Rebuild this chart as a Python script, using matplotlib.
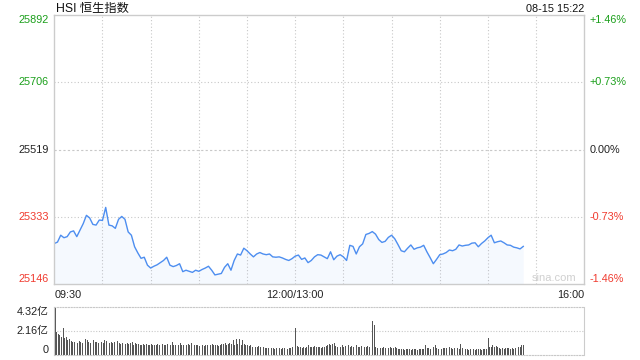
import numpy as np
import matplotlib
matplotlib.use("Agg")
import matplotlib.pyplot as plt

plt.rcParams['font.family'] = ['Liberation Sans', 'Noto Sans CJK SC', 'DejaVu Sans']

# HSI intraday, sampled every 2 minutes from 09:30 (minute 150 = 12:00/13:00)
prev_close = 25519
price = [
    25259, 25263, 25282, 25275, 25278, 25291, 25294, 25278, 25296, 25314,
    25337, 25330, 25312, 25310, 25324, 25323, 25359, 25310, 25308, 25301,
    25326, 25334, 25326, 25291, 25282, 25250, 25233, 25218, 25221, 25199,
    25191, 25196, 25200, 25206, 25212, 25221, 25199, 25195, 25198, 25203,
    25181, 25185, 25182, 25179, 25185, 25182, 25187, 25191, 25196, 25185,
    25172, 25174, 25176, 25193, 25203, 25185, 25212, 25230, 25227, 25246,
    25239, 25230, 25222, 25230, 25234, 25230, 25228, 25230, 25222, 25221,
    25222, 25219, 25215, 25212, 25217, 25224, 25227, 25215, 25219, 25206,
    25212, 25222, 25228, 25227, 25222, 25217, 25236, 25214, 25224, 25228,
    25222, 25212, 25254, 25251, 25230, 25250, 25258, 25284, 25287, 25292,
    25285, 25270, 25262, 25265, 25276, 25282, 25272, 25256, 25239, 25236,
    25246, 25255, 25243, 25247, 25249, 25254, 25236, 25220, 25203, 25215,
    25228, 25230, 25234, 25241, 25239, 25243, 25255, 25252, 25254, 25255,
    25260, 25261, 25250, 25259, 25266, 25275, 25282, 25261, 25264, 25266,
    25261, 25255, 25254, 25249, 25247, 25244, 25251,
]

# volume per minute, in 亿
volume = [
    4.32, 2.1, 1.85, 1.8, 1.6, 2.4, 1.5, 1.6, 1.3, 1.4,
    1.25, 1.2, 1.15, 1.2, 1.1, 1.25, 1.2, 1.1, 1.15, 1.4,
    1.3, 1.2, 1.1, 1.25, 1.3, 1.15, 1.2, 1.05, 1.55, 1.2,
    1.1, 1.3, 1.25, 1.0, 1.05, 1.2, 1.1, 1.15, 1.0, 1.25,
    1.1, 1.0, 1.1, 2.0, 1.0, 1.1, 0.95, 1.05, 1.2, 0.9,
    1.1, 1.0, 0.95, 0.9, 0.85, 1.0, 0.9, 0.95, 0.85, 0.9,
    0.95, 0.9, 0.85, 0.9, 0.95, 0.9, 0.9, 1.0, 0.85, 0.9,
    0.95, 0.9, 0.85, 1.2, 0.9, 0.85, 0.95, 0.9, 1.05, 0.85,
    0.9, 1.0, 0.9, 0.95, 0.85, 1.1, 0.8, 0.85, 0.9, 0.9,
    0.8, 0.85, 0.9, 0.8, 0.85, 0.9, 0.8, 0.85, 0.95, 0.9,
    0.85, 0.9, 0.8, 0.9, 1.0, 0.95, 1.1, 0.9, 1.0, 1.1,
    1.0, 1.3, 0.9, 1.4, 1.0, 1.45, 0.9, 1.3, 0.95, 0.85,
    0.9, 0.8, 0.85, 0.75, 0.8, 0.7, 0.75, 0.8, 0.7, 0.75,
    0.7, 0.65, 0.65, 0.6, 0.55, 0.6, 0.65, 0.55, 0.6, 0.7,
    0.6, 0.55, 0.6, 0.65, 0.6, 0.55, 0.6, 0.65, 0.7, 0.75,
    2.45, 0.8, 0.75, 0.7, 0.65, 0.7, 0.65, 0.7, 0.85, 0.7,
    0.75, 0.7, 0.8, 0.7, 0.75, 0.7, 0.65, 0.7, 0.75, 0.8,
    0.9, 0.95, 0.85, 1.0, 1.05, 0.8, 0.75, 0.8, 0.75, 0.85,
    0.75, 0.8, 0.7, 0.85, 0.75, 0.8, 0.7, 0.75, 0.85, 0.7,
    0.75, 0.8, 0.7, 0.75, 0.7, 0.8, 0.75, 0.7, 3.0, 2.65,
    0.7, 0.65, 0.7, 0.6, 0.65, 0.7, 0.6, 0.75, 0.65, 0.7,
    0.65, 0.6, 0.7, 0.65, 0.55, 0.5, 0.55, 0.5, 0.45, 0.5,
    0.55, 0.5, 0.45, 0.5, 0.55, 0.5, 0.45, 0.55, 0.5, 0.5,
    0.55, 0.85, 0.6, 0.65, 0.55, 0.6, 0.7, 0.85, 0.6, 0.55,
    0.6, 0.55, 0.6, 0.65, 0.6, 0.55, 0.7, 0.6, 0.55, 0.6,
    0.65, 0.6, 0.55, 0.95, 0.6, 0.5, 0.55, 0.5, 0.45, 0.5,
    0.55, 0.5, 0.45, 0.5, 0.55, 0.5, 0.45, 0.55, 0.5, 0.5,
    1.55, 0.7, 0.75, 0.85, 0.7, 0.8, 0.75, 0.6, 0.55, 0.6,
    0.55, 0.6, 0.65, 0.6, 0.55, 0.6, 0.55, 0.65, 0.6, 0.7,
    0.75, 0.85, 0.9,
]

price_levels = [25146, 25333, 25519, 25706, 25892]
pct_labels = ['-1.46%', '-0.73%', '0.00%', '+0.73%', '+1.46%']
vol_levels = [0, 2.16, 4.32]
vol_labels = ['0', '2.16亿', '4.32亿']
x_labels = ['09:30', '12:00/13:00', '16:00']

GREEN = '#1a9f1a'
RED = '#f03a2e'
BORDER = '#cccccc'
GRID = '#c8c8c8'
LINE = '#4d8ef0'
FS = 7.8


def level_color(v):
    if v > prev_close:
        return GREEN
    if v < prev_close:
        return RED
    return '#222222'


fig = plt.figure(figsize=(6.4, 3.6), dpi=100)
W, H = 640.0, 360.0
x0, x1 = 54.3, 584.3
ax = fig.add_axes([x0 / W, 1 - 284.3 / H, (x1 - x0) / W, (284.3 - 15) / H])
axv = fig.add_axes([x0 / W, 1 - 355 / H, (x1 - x0) / W, (355 - 306.7) / H])

total = 330
xp = np.arange(0, 2 * len(price), 2)
xv = np.arange(len(volume))

# main price panel
ax.set_xlim(0, total)
ax.set_ylim(price_levels[0], price_levels[-1])
ax.fill_between(xp, price, price_levels[0], color=LINE, alpha=0.05, lw=0)
ax.plot(xp, price, color=LINE, lw=1.0)
for v in price_levels[1:-1]:
    ls = (0, (2, 2)) if v == prev_close else (0, (1, 2))
    ax.axhline(v, color=GRID, lw=0.8, ls=ls, zorder=0)
for t in range(30, total, 30):
    ax.axvline(t, color=GRID, lw=0.8, ls=(0, (1, 2)), zorder=0)
for s in ax.spines.values():
    s.set_color(BORDER)
    s.set_linewidth(1)
ax.set_xticks([])
ax.set_yticks([])

for i, (v, p) in enumerate(zip(price_levels, pct_labels)):
    va = 'bottom' if i == 0 else ('top' if i == len(price_levels) - 1 else 'center')
    c = level_color(v)
    ax.annotate(str(v), (0, v), xycoords=('axes fraction', 'data'), xytext=(-4, 0),
                textcoords='offset points', ha='right', va=va, fontsize=FS, color=c)
    ax.annotate(p, (1, v), xycoords=('axes fraction', 'data'), xytext=(4, 0),
                textcoords='offset points', ha='left', va=va, fontsize=FS, color=c)

ax.text(0, -0.02, x_labels[0], transform=ax.transAxes, ha='left', va='top', fontsize=FS, color='#222222')
ax.text(150 / total, -0.02, x_labels[1], transform=ax.transAxes, ha='center', va='top', fontsize=FS, color='#222222')
ax.text(1, -0.02, x_labels[2], transform=ax.transAxes, ha='right', va='top', fontsize=FS, color='#222222')
ax.text(0.985, 0.005, 'sina.com', transform=ax.transAxes, ha='right', va='bottom', fontsize=8, color='#d0d0d0')

fig.text(x0 / W + 0.002, 1 - 9 / H, 'HSI 恒生指数', ha='left', va='center', fontsize=8.8, color='#111111')
fig.text(x1 / W, 1 - 9 / H, '08-15 15:22', ha='right', va='center', fontsize=FS, color='#111111')

# volume panel
axv.set_xlim(-0.5, total)
axv.set_ylim(0, 4.32)
axv.bar(xv, volume, width=0.55, color='#555555', lw=0)
axv.axhline(2.16, color=GRID, lw=0.8, ls=(0, (1, 1.5)), zorder=0)
for name in ['left', 'right']:
    axv.spines[name].set_color(BORDER)
for name in ['top', 'bottom']:
    axv.spines[name].set_color(GRID)
    axv.spines[name].set_linestyle((0, (1, 1.5)))
axv.set_xticks([])
axv.set_yticks([])
for v, lab in zip(vol_levels, vol_labels):
    va = 'bottom' if v == 0 else ('top' if v == vol_levels[-1] else 'center')
    axv.annotate(lab, (0, v), xycoords=('axes fraction', 'data'), xytext=(-4, 0),
                 textcoords='offset points', ha='right', va=va, fontsize=FS, color='#222222')

fig.savefig('out.png', dpi=100)
